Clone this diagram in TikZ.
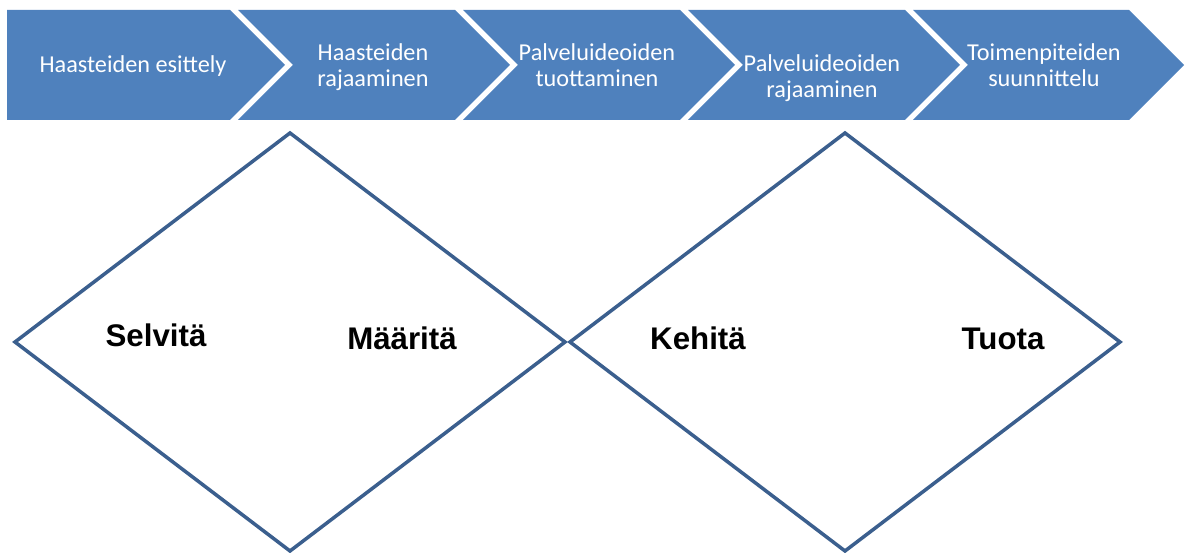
\documentclass[tikz,border=0pt]{standalone}
\usepackage{fontspec}
\usetikzlibrary{calc, positioning}
\newfontfamily\vaihefont{Carlito}
\newfontfamily\sanafont{Liberation Sans}
\definecolor{vaihesininen}{HTML}{4F81BD}
\definecolor{reunasininen}{HTML}{3B5F8E}

\begin{document}
\begin{tikzpicture}[x=0.02cm, y=-0.02cm,
  vaihe/.style={fill=vaihesininen, draw=none},
  vaiheteksti/.style={white, align=center, inner sep=0pt, anchor=base,
    font=\vaihefont\fontsize{13.8}{15.3}\selectfont},
  timantti/.style={draw=reunasininen, line width=2pt, line join=miter},
  sana/.style={inner sep=0pt, anchor=base, font=\sanafont\bfseries\fontsize{17.8}{20}\selectfont}]

  \useasboundingbox (0,0) rectangle (1188,553);

  % Nuolten mitat
  \pgfmathsetmacro{\ytop}{10}
  \pgfmathsetmacro{\ybot}{120}
  \pgfmathsetmacro{\ymid}{65}
  \pgfmathsetmacro{\kar}{55}

  % Vaiheet (nuolet)
  \fill[vaihe] (7,\ytop) -- (230,\ytop) -- (230+\kar,\ymid) -- (230,\ybot) -- (7,\ybot) -- cycle;
  \fill[vaihe] (238,\ytop) -- (455,\ytop) -- (455+\kar,\ymid) -- (455,\ybot) -- (238,\ybot) -- (238+\kar,\ymid) -- cycle;
  \fill[vaihe] (463,\ytop) -- (680,\ytop) -- (680+\kar,\ymid) -- (680,\ybot) -- (463,\ybot) -- (463+\kar,\ymid) -- cycle;
  \fill[vaihe] (688,\ytop) -- (905,\ytop) -- (905+\kar,\ymid) -- (905,\ybot) -- (688,\ybot) -- (688+\kar,\ymid) -- cycle;
  \fill[vaihe] (913,\ytop) -- (1129,\ytop) -- (1129+\kar,\ymid) -- (1129,\ybot) -- (913,\ybot) -- (913+\kar,\ymid) -- cycle;

  % Vaiheiden tekstit
  \node[vaiheteksti] (esittely) at (133,73) {Haasteiden esittely};
  \node[vaiheteksti] (hrajaus) at (373,87) {Haasteiden\\rajaaminen};
  \node[vaiheteksti] (tuotto) at (597,87) {Palveluideoiden\\tuottaminen};
  \node[vaiheteksti] (prajaus) at (822,98) {Palveluideoiden\\rajaaminen};
  \node[vaiheteksti] (suunnittelu) at (1044,87) {Toimenpiteiden\\suunnittelu};

  % Timantit
  \coordinate (v1) at (15,342);
  \coordinate (y1) at (290,133);
  \coordinate (o1) at (565,342);
  \coordinate (a1) at (290,551);
  \draw[timantti] (v1) -- (y1) -- (o1) -- (a1) -- cycle;

  \coordinate (v2) at (570,342);
  \coordinate (y2) at (845,133);
  \coordinate (o2) at (1120,342);
  \coordinate (a2) at (845,551);
  \draw[timantti] (v2) -- (y2) -- (o2) -- (a2) -- cycle;

  % Sanat
  \node[sana] (selvita) at (156,347) {Selvitä};
  \node[sana] (maarita) at (402,350) {Määritä};
  \node[sana] (kehita) at (698,350) {Kehitä};
  \node[sana] (tuota) at (1003,350) {Tuota};

\end{tikzpicture}
\end{document}
